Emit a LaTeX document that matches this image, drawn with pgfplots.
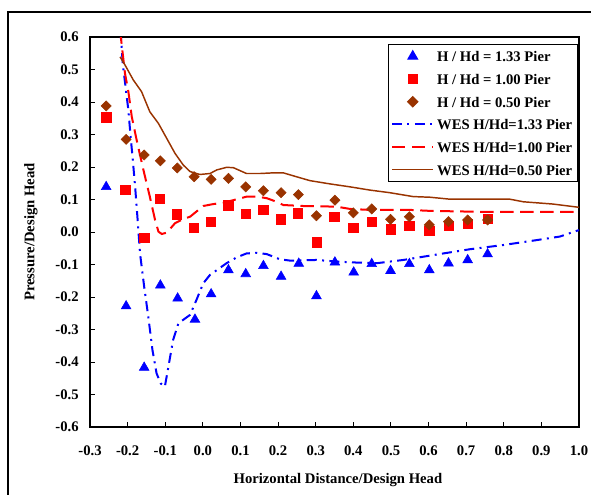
\documentclass[border=0pt]{standalone}
\usepackage{pgfplots}
\pgfplotsset{compat=1.18}
\usepackage{fontspec}
\setmainfont{Liberation Serif}
\definecolor{wesbrown}{RGB}{153,51,0}
\definecolor{wesblue}{RGB}{0,0,255}
\definecolor{wesred}{RGB}{255,0,0}
\pgfplotsset{
  mylegend/.style={legend image code/.code={\draw[mark repeat=2,mark phase=2,##1] plot coordinates {(0pt,0pt) (15.5pt,0pt) (31pt,0pt)};}}
}
\begin{document}
\begin{tikzpicture}
\useasboundingbox (0,0) rectangle (443.25pt,370.5pt);
\draw[line width=1.1pt] (6pt,-2pt) -- (6pt,361.5pt) -- (446pt,361.5pt);
\begin{axis}[
  at={(67.5pt,50.25pt)}, anchor=south west,
  scale only axis, width=366.75pt, height=292.5pt,
  xmin=-0.3, xmax=1.0, ymin=-0.6, ymax=0.6,
  axis line style={line width=0.9pt},
  tick pos=left, tick align=inside, major tick length=4pt,
  tick style={line width=0.7pt, black},
  xtick={-0.3,-0.2,-0.1,0,0.1,0.2,0.3,0.4,0.5,0.6,0.7,0.8,0.9,1.0},
  xticklabels={-0.3,-0.2,-0.1,0.0,0.1,0.2,0.3,0.4,0.5,0.6,0.7,0.8,0.9,1.0},
  ytick={-0.6,-0.5,-0.4,-0.3,-0.2,-0.1,0,0.1,0.2,0.3,0.4,0.5,0.6},
  yticklabels={-0.6,-0.5,-0.4,-0.3,-0.2,-0.1,0.0,0.1,0.2,0.3,0.4,0.5,0.6},
  ticklabel style={font=\bfseries\fontsize{11}{13}\selectfont},
  xticklabel style={yshift=-10.5pt},
  yticklabel style={xshift=-5pt},
  xlabel={Horizontal Distance/Design Head},
  ylabel={Pressure/Design Head},
  label style={font=\bfseries\fontsize{11}{13}\selectfont},
  xlabel style={at={(axis description cs:0.507,-0.136)}, anchor=center},
  ylabel style={at={(axis description cs:-0.121,0.5)}, anchor=center},
  legend cell align=left,
  legend style={at={(axis description cs:0.998,0.982)}, anchor=north east,
    draw=black, line width=0.8pt, inner xsep=2pt, inner ysep=3.5pt,
    font=\bfseries\fontsize{11}{13}\selectfont,
    nodes={inner xsep=2pt, inner ysep=0pt, text height=9.5pt, text depth=1.2pt},
    row sep=6.3pt},
]
\addplot[only marks, mark=triangle*, mark size=4.2pt, color=wesblue, mylegend] coordinates {
(-0.257,0.139) (-0.204,-0.228) (-0.156,-0.417) (-0.113,-0.164) (-0.067,-0.204) (-0.021,-0.269) (0.022,-0.191) (0.068,-0.117) (0.114,-0.129) (0.161,-0.104) (0.208,-0.137) (0.255,-0.097) (0.302,-0.197) (0.351,-0.093) (0.401,-0.124) (0.449,-0.098) (0.499,-0.119) (0.549,-0.098) (0.602,-0.117) (0.653,-0.096) (0.704,-0.086) (0.757,-0.068)
};
\addlegendentry{H / Hd = 1.33 Pier}
\addplot[only marks, mark=square*, mark size=3.5pt, color=wesred, mylegend] coordinates {
(-0.257,0.353) (-0.206,0.129) (-0.156,-0.017) (-0.114,0.102) (-0.069,0.055) (-0.024,0.014) (0.021,0.032) (0.068,0.082) (0.114,0.057) (0.161,0.068) (0.207,0.039) (0.253,0.058) (0.302,-0.032) (0.349,0.047) (0.400,0.014) (0.449,0.032) (0.499,0.008) (0.549,0.019) (0.602,0.004) (0.653,0.019) (0.704,0.025) (0.757,0.040)
};
\addlegendentry{H / Hd = 1.00 Pier}
\addplot[only marks, mark=square*, mark size=2.7pt, mark options={rotate=45}, color=wesbrown, mylegend] coordinates {
(-0.257,0.388) (-0.204,0.285) (-0.156,0.237) (-0.113,0.219) (-0.068,0.197) (-0.023,0.170) (0.022,0.162) (0.068,0.165) (0.114,0.139) (0.161,0.127) (0.208,0.121) (0.254,0.115) (0.302,0.050) (0.351,0.098) (0.400,0.059) (0.449,0.071) (0.499,0.039) (0.549,0.047) (0.602,0.022) (0.653,0.032) (0.704,0.037) (0.757,0.037)
};
\addlegendentry{H / Hd = 0.50 Pier}
\addplot[no marks, color=wesblue, line width=1.5pt, dash pattern=on 7.5pt off 4pt on 1.5pt off 4pt, mylegend] coordinates {
(-0.219,0.62) (-0.213,0.519) (-0.204,0.432) (-0.198,0.375) (-0.192,0.293) (-0.187,0.232) (-0.180,0.139) (-0.174,0.047) (-0.167,-0.066) (-0.156,-0.168) (-0.145,-0.261) (-0.134,-0.363) (-0.123,-0.435) (-0.112,-0.466) (-0.101,-0.476) (-0.090,-0.404) (-0.079,-0.332) (-0.065,-0.281) (-0.034,-0.255) (-0.017,-0.209) (0.001,-0.158) (0.019,-0.132) (0.063,-0.096) (0.090,-0.078) (0.116,-0.066) (0.143,-0.064) (0.170,-0.068) (0.205,-0.084) (0.232,-0.088) (0.302,-0.086) (0.356,-0.091) (0.409,-0.094) (0.462,-0.096) (0.533,-0.086) (0.586,-0.076) (0.639,-0.066) (0.710,-0.053) (0.799,-0.040) (0.887,-0.025) (0.949,-0.014) (1.0,0.006)
};
\addlegendentry{WES H/Hd=1.33 Pier}
\addplot[no marks, color=wesred, line width=1.5pt, dash pattern=on 10pt off 5pt, mylegend] coordinates {
(-0.220,0.62) (-0.207,0.488) (-0.198,0.432) (-0.189,0.355) (-0.176,0.283) (-0.158,0.191) (-0.141,0.109) (-0.127,0.037) (-0.118,0.001) (-0.109,-0.006) (-0.096,-0.002) (-0.074,0.027) (-0.052,0.040) (-0.034,0.047) (0.001,0.080) (0.028,0.086) (0.054,0.090) (0.081,0.098) (0.117,0.109) (0.143,0.109) (0.170,0.104) (0.196,0.093) (0.214,0.083) (0.267,0.080) (0.356,0.078) (0.391,0.071) (0.444,0.068) (0.551,0.068) (0.604,0.065) (0.745,0.062) (1.0,0.062)
};
\addlegendentry{WES H/Hd=1.00 Pier}
\addplot[no marks, color=wesbrown, line width=1.1pt, mylegend] coordinates {
(-0.220,0.539) (-0.207,0.514) (-0.185,0.468) (-0.163,0.432) (-0.141,0.370) (-0.118,0.334) (-0.096,0.288) (-0.074,0.242) (-0.052,0.206) (-0.034,0.186) (-0.008,0.177) (0.019,0.180) (0.037,0.191) (0.063,0.199) (0.081,0.198) (0.116,0.180) (0.152,0.180) (0.187,0.182) (0.214,0.182) (0.249,0.170) (0.285,0.158) (0.338,0.148) (0.391,0.139) (0.444,0.129) (0.497,0.121) (0.559,0.109) (0.604,0.107) (0.657,0.101) (0.710,0.101) (0.816,0.101) (0.852,0.093) (0.931,0.086) (1.0,0.076)
};
\addlegendentry{WES H/Hd=0.50 Pier}
\end{axis}
\end{tikzpicture}
\end{document}
